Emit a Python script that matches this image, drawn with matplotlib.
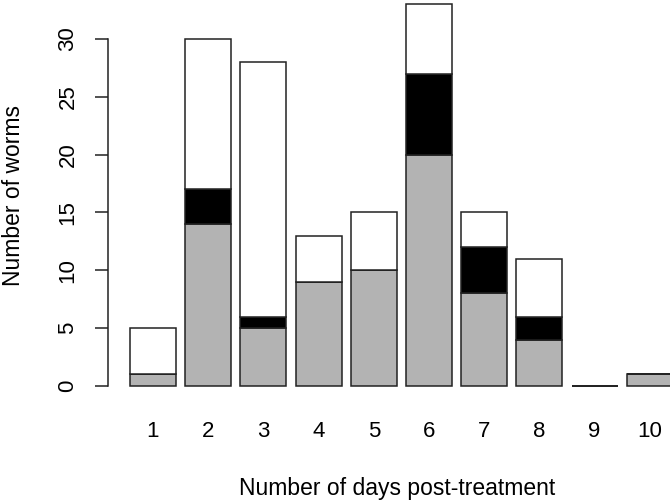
import matplotlib
matplotlib.use("Agg")
import matplotlib.pyplot as plt
import numpy as np

days = ["1", "2", "3", "4", "5", "6", "7", "8", "9", "10"]
gray_vals = [1, 14, 5, 9, 10, 20, 8, 4, 0, 1]
black_vals = [0, 3, 1, 0, 0, 7, 4, 2, 0, 0]
white_vals = [4, 13, 22, 4, 5, 6, 3, 5, 0, 0]
y_ticks = [0, 5, 10, 15, 20, 25, 30]

plt.rcParams['font.family'] = ['Liberation Sans', 'DejaVu Sans']

fig = plt.figure(figsize=(6.7, 5.04), dpi=100)
W, H = 670, 504
# pixel geometry
x0_px = 120.8   # data x=0
px_per_x = 46.0
y0_px = 386.0   # data y=0
px_per_y = 11.567
left_px, right_px = 108.0, 690.0
bot_px, top_px = 401.0, -12.0
ax = fig.add_axes([left_px / W, (H - bot_px) / H, (right_px - left_px) / W, (bot_px - top_px) / H])
ax.set_xlim((left_px - x0_px) / px_per_x, (right_px - x0_px) / px_per_x)
ax.set_ylim((y0_px - bot_px) / px_per_y, (y0_px - top_px) / px_per_y)

pos = 0.7 + 1.2 * np.arange(len(days))
g = np.array(gray_vals, dtype=float)
b = np.array(black_vals, dtype=float)
w = np.array(white_vals, dtype=float)
kw = dict(width=1.0, edgecolor='#222222', linewidth=1.1)
ax.bar(pos, g, color='#B3B3B3', **kw)
ax.bar(pos, b, bottom=g, color='black', **kw)
ax.bar(pos, w, bottom=g + b, color='white', **kw)

for s in ['top', 'right', 'bottom']:
    ax.spines[s].set_visible(False)
ax.spines['left'].set_bounds(0, 30)
ax.spines['left'].set_color('#222222')
ax.spines['left'].set_linewidth(1.1)
ax.set_yticks(y_ticks)
ax.set_yticklabels([str(t) for t in y_ticks], rotation=90, va='center', ha='center', fontsize=16)
ax.tick_params(axis='y', length=9.4, width=1.1, color='#222222', pad=19.4)
ax.set_xticks(pos)
ax.set_xticklabels(days, fontsize=16, va='center')
ax.tick_params(axis='x', length=0, pad=22.3)

fig.text(14 / W, 1 - 196 / H, "Number of worms", rotation=90, ha='center', va='center', fontsize=16.5)
fig.text(397 / W, 1 - 488 / H, "Number of days post-treatment", ha='center', va='center', fontsize=16.5)

fig.savefig("out.png", dpi=100)
